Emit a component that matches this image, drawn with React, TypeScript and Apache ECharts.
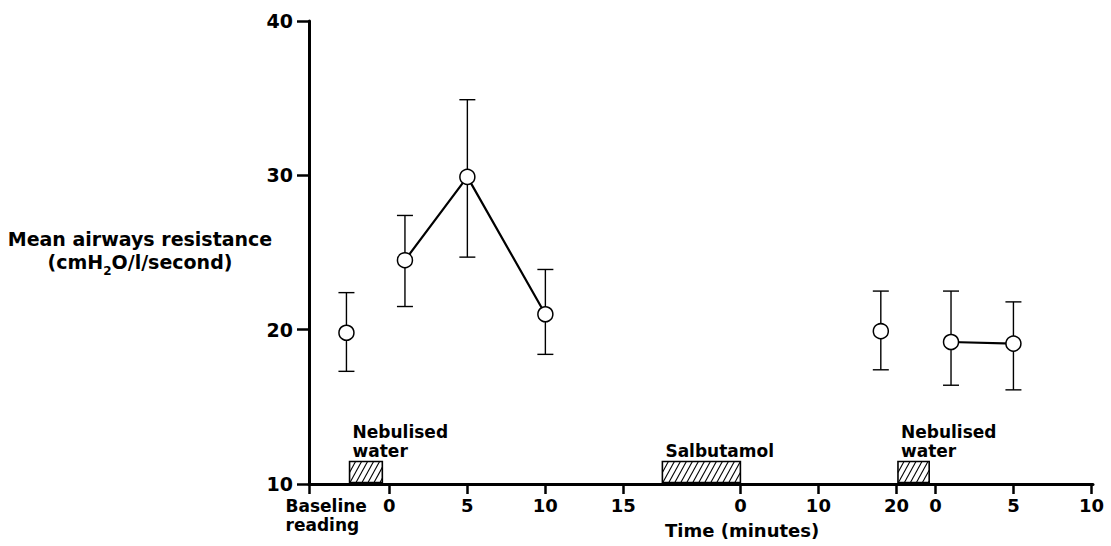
import React, { useEffect, useRef } from 'react';
import * as echarts from 'echarts';

const FONT = '"DejaVu Sans", sans-serif';

// Tick labels (minutes) of each phase of the time axis
const ticksWater1 = [0, 5, 10, 15];
const ticksSalbutamol = [0, 10, 20];
const ticksWater2 = [0, 5, 10];

// Baseline reading
const baselineMinute = [-2.75];
const baselineMean = [19.8];
const baselineHi = [22.4];
const baselineLo = [17.3];

// After first nebulised water
const water1Minutes = [1, 5, 10];
const water1Mean = [24.5, 29.9, 21.0];
const water1Hi = [27.4, 34.9, 23.9];
const water1Lo = [21.5, 24.7, 18.4];

// After salbutamol
const salbMinutes = [18];
const salbMean = [19.9];
const salbHi = [22.5];
const salbLo = [17.4];

// After second nebulised water
const water2Minutes = [1, 5];
const water2Mean = [19.2, 19.1];
const water2Hi = [22.5, 21.8];
const water2Lo = [16.4, 16.1];

// Exposure periods
const exposureLabels = ['Nebulised\nwater', 'Salbutamol', 'Nebulised\nwater'];
const exposurePhase = ['water1', 'salb', 'water2'];
const exposureStart = [-2.55, -10, -2.4];
const exposureEnd = [-0.45, 0, -0.4];

// axis layout: phases placed on one continuous position axis
const phaseOffset: Record<string, number> = { water1: 0, salb: 22.5, water2: 35 };
const phaseScale: Record<string, number> = { water1: 1, salb: 0.5, water2: 1 };
const pos = (phase: string, m: number) => phaseOffset[phase] + m * phaseScale[phase];
const AXIS_MIN = -5.15;
const AXIS_MAX = 45.1;
const BASELINE_LABEL_POS = -3.9;

export default function App() {
  const ref = useRef<HTMLDivElement>(null);
  useEffect(() => {
    if (!ref.current) return;
    const chart = echarts.init(ref.current, undefined, { renderer: 'svg' });

    const tickValues: number[] = [AXIS_MIN];
    const labelMap = new Map<string, string>();
    const labelValues: number[] = [BASELINE_LABEL_POS];
    labelMap.set(BASELINE_LABEL_POS.toFixed(3), '{b|Baseline}\n{b|reading}');
    const addTicks = (phase: string, arr: number[]) => {
      arr.forEach((m) => {
        const p = pos(phase, m);
        tickValues.push(p);
        labelValues.push(p);
        labelMap.set(p.toFixed(3), '{t|' + String(m) + '}');
      });
    };
    addTicks('water1', ticksWater1);
    addTicks('salb', ticksSalbutamol);
    addTicks('water2', ticksWater2);

    const mk = (phase: string, mins: number[], vals: number[]) =>
      mins.map((m, i) => [pos(phase, m), vals[i]]);
    const mkErr = (phase: string, mins: number[], lo: number[], hi: number[]) =>
      mins.map((m, i) => [pos(phase, m), lo[i], hi[i]]);

    const errData = [
      ...mkErr('water1', baselineMinute, baselineLo, baselineHi),
      ...mkErr('water1', water1Minutes, water1Lo, water1Hi),
      ...mkErr('salb', salbMinutes, salbLo, salbHi),
      ...mkErr('water2', water2Minutes, water2Lo, water2Hi),
    ];

    const boxData = exposureLabels.map((lab, i) => [
      pos(exposurePhase[i], exposureStart[i]),
      pos(exposurePhase[i], exposureEnd[i]),
      i,
    ]);

    const pointSeries = (data: number[][]) => ({
      type: 'line',
      data,
      z: 5,
      symbol: 'circle',
      symbolSize: 15,
      showAllSymbol: true,
      lineStyle: { color: '#000', width: 2.2 },
      itemStyle: { color: '#fff', borderColor: '#000', borderWidth: 1.5 },
      emphasis: { disabled: true },
      silent: true,
    });

    const option: any = {
      animation: false,
      backgroundColor: '#fff',
      textStyle: { fontFamily: FONT, color: '#000' },
      grid: { left: 309, right: 18, top: 21, bottom: 62, containLabel: false, outerBoundsMode: 'none' },
      xAxis: {
        type: 'value',
        min: AXIS_MIN,
        max: AXIS_MAX,
        splitLine: { show: false },
        axisLine: { onZero: false, lineStyle: { color: '#000', width: 3 } },
        axisTick: {
          show: true,
          length: 10,
          customValues: tickValues,
          lineStyle: { color: '#000', width: 2.5 },
        },
        axisLabel: {
          customValues: labelValues,
          margin: 12,
          formatter: (v: number) => labelMap.get(v.toFixed(3)) ?? '',
          rich: {
            t: { fontFamily: FONT, fontWeight: 'bold', fontSize: 18, color: '#000', lineHeight: 19 },
            b: { fontFamily: FONT, fontWeight: 'bold', fontSize: 17, color: '#000', lineHeight: 19, width: 86, align: 'left' },
          },
        },
      },
      yAxis: {
        type: 'value',
        min: 10,
        max: 40,
        interval: 10,
        splitLine: { show: false },
        axisLine: { show: true, onZero: false, lineStyle: { color: '#000', width: 3 } },
        axisTick: { show: true, length: 12, lineStyle: { color: '#000', width: 2.5 } },
        axisLabel: { margin: 16, fontFamily: FONT, fontWeight: 'bold', fontSize: 19, color: '#000' },
      },
      series: [
        {
          type: 'custom',
          z: 2,
          silent: true,
          data: boxData,
          encode: { x: [0, 1] },
          clip: false,
          renderItem: (params: any, api: any) => {
            const x0 = api.coord([api.value(0), 10])[0];
            const x1 = api.coord([api.value(1), 10])[0];
            const yBot = api.coord([0, 10])[1] - 1.5;
            const h = 21;
            const yTop = yBot - h;
            const k = 0.55;
            const step = 6;
            const lines: any[] = [];
            for (let c = x0 - h * k; c < x1; c += step) {
              let sx = c, sy = yBot, ex = c + h * k, ey = yTop;
              if (sx < x0) { sy = yBot - (x0 - c) / k; sx = x0; }
              if (ex > x1) { ey = yBot - (x1 - c) / k; ex = x1; }
              if (ex - sx < 0.5) continue;
              lines.push({ type: 'line', shape: { x1: sx, y1: sy, x2: ex, y2: ey }, style: { stroke: '#000', lineWidth: 1.1 } });
            }
            const idx = api.value(2);
            return {
              type: 'group',
              children: [
                { type: 'rect', shape: { x: x0, y: yTop, width: x1 - x0, height: h }, style: { fill: '#fff', stroke: '#000', lineWidth: 1.6 } },
                ...lines,
                {
                  type: 'text',
                  x: x0 + 3,
                  y: yTop - 1,
                  style: {
                    text: exposureLabels[idx],
                    fontFamily: FONT,
                    fontWeight: 'bold',
                    fontSize: 17,
                    lineHeight: 19,
                    fill: '#000',
                    align: 'left',
                    verticalAlign: 'bottom',
                  },
                },
              ],
            };
          },
        },
        {
          type: 'custom',
          z: 3,
          silent: true,
          data: errData,
          encode: { x: 0, y: [1, 2] },
          renderItem: (params: any, api: any) => {
            const lo = api.coord([api.value(0), api.value(1)]);
            const hi = api.coord([api.value(0), api.value(2)]);
            const x = lo[0];
            const st = { stroke: '#000', lineWidth: 1.4 };
            return {
              type: 'group',
              children: [
                { type: 'line', shape: { x1: x, y1: lo[1], x2: x, y2: hi[1] }, style: st },
                { type: 'line', shape: { x1: x - 8, y1: hi[1], x2: x + 8, y2: hi[1] }, style: st },
                { type: 'line', shape: { x1: x - 8, y1: lo[1], x2: x + 8, y2: lo[1] }, style: st },
              ],
            };
          },
        },
        pointSeries(mk('water1', baselineMinute, baselineMean)),
        pointSeries(mk('water1', water1Minutes, water1Mean)),
        pointSeries(mk('salb', salbMinutes, salbMean)),
        pointSeries(mk('water2', water2Minutes, water2Mean)),
      ],
      graphic: [
        {
          type: 'text',
          x: 140,
          y: 239,
          style: {
            text: 'Mean airways resistance',
            fontFamily: FONT,
            fontWeight: 'bold',
            fontSize: 19,
            fill: '#000',
            align: 'center',
            verticalAlign: 'middle',
          },
        },
        {
          type: 'text',
          x: 140,
          y: 262,
          style: {
            text: '{n|(cmH}{s|2}{n|O/l/second)}',
            align: 'center',
            verticalAlign: 'middle',
            rich: {
              n: { fontFamily: FONT, fontWeight: 'bold', fontSize: 19, lineHeight: 30, fill: '#000' },
              s: { fontFamily: FONT, fontWeight: 'bold', fontSize: 12, lineHeight: 13, verticalAlign: 'bottom', fill: '#000' },
            },
          },
        },
        {
          type: 'text',
          x: 665,
          y: 530,
          style: {
            text: 'Time (minutes)',
            fontFamily: FONT,
            fontWeight: 'bold',
            fontSize: 18,
            fill: '#000',
            align: 'left',
            verticalAlign: 'middle',
          },
        },
      ],
    };
    chart.setOption(option);
    return () => chart.dispose();
  }, []);
  return <div ref={ref} style={{ position: 'fixed', left: 0, top: 0, width: 1111, height: 546, background: '#fff' }} />;
}
